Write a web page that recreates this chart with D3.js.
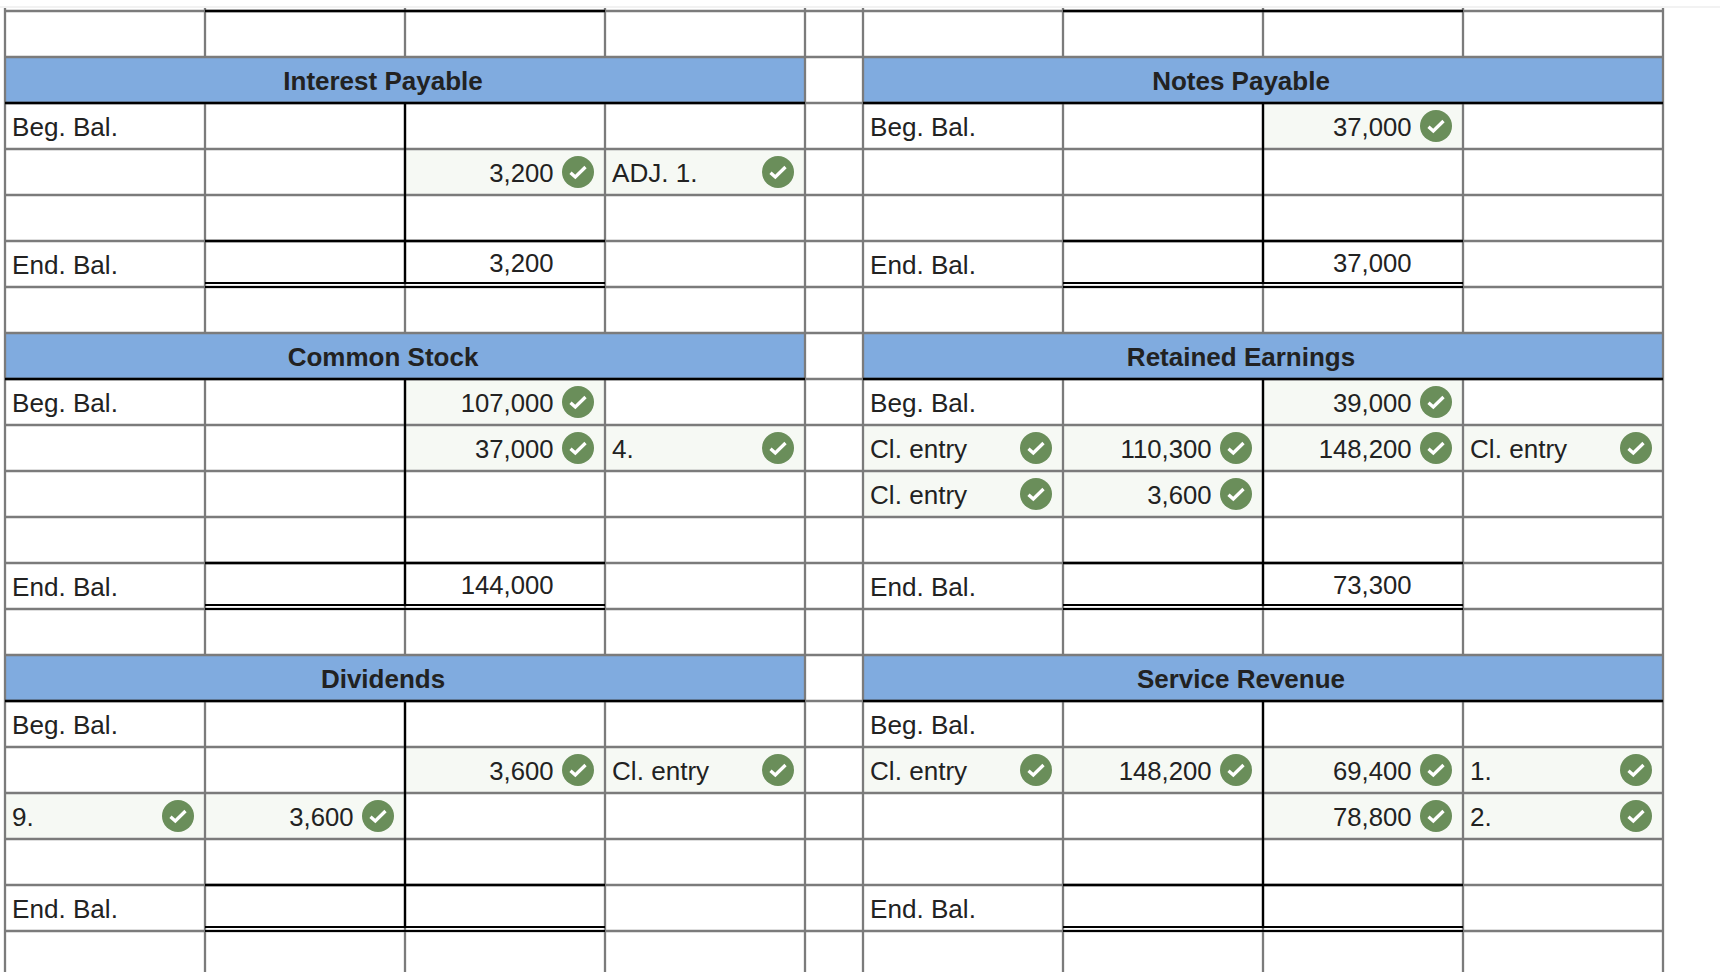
<!DOCTYPE html>
<html>
<head>
<meta charset="utf-8">
<script src="https://cdn.jsdelivr.net/npm/d3@7"></script>
<style>
  html, body { margin: 0; background: #fff; }
  svg { display: block; }
  text { font-family: "Liberation Sans", Arial, sans-serif; font-size: 25.7px; fill: #222; }
  text.label { font-size: 26.1px; }
  text.title { font-size: 26px; font-weight: bold; }
</style>
</head>
<body>
<svg id="sheet" width="1720" height="976"></svg>
<script>
// every row is [label, debit, credit, note]
const interestPayable = [
  ["Beg. Bal.", null, null, ""],
  ["", null, 3200, "ADJ. 1."],
  ["", null, null, ""],
  ["End. Bal.", null, 3200, ""]
];
const notesPayable = [
  ["Beg. Bal.", null, 37000, ""],
  ["", null, null, ""],
  ["", null, null, ""],
  ["End. Bal.", null, 37000, ""]
];
const commonStock = [
  ["Beg. Bal.", null, 107000, ""],
  ["", null, 37000, "4."],
  ["", null, null, ""],
  ["", null, null, ""],
  ["End. Bal.", null, 144000, ""]
];
const retainedEarnings = [
  ["Beg. Bal.", null, 39000, ""],
  ["Cl. entry", 110300, 148200, "Cl. entry"],
  ["Cl. entry", 3600, null, ""],
  ["", null, null, ""],
  ["End. Bal.", null, 73300, ""]
];
const dividends = [
  ["Beg. Bal.", null, null, ""],
  ["", null, 3600, "Cl. entry"],
  ["9.", 3600, null, ""],
  ["", null, null, ""],
  ["End. Bal.", null, null, ""]
];
const serviceRevenue = [
  ["Beg. Bal.", null, null, ""],
  ["Cl. entry", 148200, 69400, "1."],
  ["", null, 78800, "2."],
  ["", null, null, ""],
  ["End. Bal.", null, null, ""]
];

const leftAccounts = [
  { title: "Interest Payable", rows: interestPayable },
  { title: "Common Stock", rows: commonStock },
  { title: "Dividends", rows: dividends }
];
const rightAccounts = [
  { title: "Notes Payable", rows: notesPayable },
  { title: "Retained Earnings", rows: retainedEarnings },
  { title: "Service Revenue", rows: serviceRevenue }
];

const GREY = "#7b7b7b", BLACK = "#000", BLUE = "#80abdf", PALE = "#f6f9f4", GREEN = "#6a8e5a";
const ROW_COUNT = 21, GAP_COL = 4, COL_COUNT = 9;
const RULE = 2.3;

const svg = d3.select("#sheet");
const x = d3.scaleLinear().domain([0, GAP_COL, GAP_COL + 1, COL_COUNT]).range([5, 805, 863, 1663]);
const y = d3.scaleLinear().domain([0, ROW_COUNT]).range([11, 977]);
const bottom = 972;
const money = d3.format(",");

// lay the accounts out on the grid, header row first, one blank row between blocks
function layout(accounts, startCol) {
  let row = 1;
  return accounts.map(a => {
    const block = { ...a, col: startCol, row };
    row += a.rows.length + 2;
    return block;
  });
}
const blocks = layout(leftAccounts, 0).concat(layout(rightAccounts, GAP_COL + 1));

const cells = [];
blocks.forEach(b => {
  b.rows.forEach((r, i) => {
    const kind = i === 0 ? "beg" : i === b.rows.length - 1 ? "end" : "entry";
    r.forEach((v, j) => {
      if (v === null || v === "") return;
      const numeric = j === 1 || j === 2;
      const checked = kind === "entry" || (kind === "beg" && numeric);
      cells.push({
        col: b.col + j,
        row: b.row + 1 + i,
        text: numeric ? money(v) : v,
        numeric,
        checked,
        kind
      });
    });
  });
});

function hLine(y1, col0, col1, color, width) {
  svg.append("line").attr("x1", x(col0)).attr("x2", x(col1))
    .attr("y1", y1).attr("y2", y1)
    .attr("stroke", color).attr("stroke-width", width);
}
function vLine(xPos, y0, y1, color, width) {
  svg.append("line").attr("x1", xPos).attr("x2", xPos)
    .attr("y1", y0).attr("y2", y1)
    .attr("stroke", color).attr("stroke-width", width);
}

// strip along the very top of the crop
svg.append("rect").attr("x", 0).attr("y", 6).attr("width", 1720).attr("height", 2).attr("fill", "#f2f2f2");

// shaded answer cells
svg.append("g").selectAll("rect").data(cells.filter(c => c.checked)).join("rect")
  .attr("x", d => x(d.col)).attr("y", d => y(d.row))
  .attr("width", d => x(d.col + 1) - x(d.col)).attr("height", y(1) - y(0))
  .attr("fill", PALE);

// blue account headers
svg.append("g").selectAll("rect").data(blocks).join("rect")
  .attr("x", d => x(d.col)).attr("y", d => y(d.row))
  .attr("width", d => x(d.col + 4) - x(d.col)).attr("height", y(1) - y(0))
  .attr("fill", BLUE);

// grey grid
d3.range(ROW_COUNT).forEach(r => hLine(y(r), 0, COL_COUNT, GREY, RULE));
d3.range(COL_COUNT + 1).forEach(c => {
  const inner = c !== 0 && c !== 4 && c !== 5 && c !== 9;
  if (!inner) {
    vLine(x(c), 8, bottom, GREY, RULE);
    return;
  }
  // inner columns stop at the header bands
  let top = 8;
  blocks.filter(b => b.col === 0).forEach(b => {
    vLine(x(c), top, y(b.row), GREY, RULE);
    top = y(b.row + 1);
  });
  vLine(x(c), top, bottom, GREY, RULE);
});

// black T-account rules
[0, GAP_COL + 1].forEach(col => {
  hLine(y(0), col + 1, col + 3, BLACK, RULE);
});
blocks.forEach(b => {
  const endRow = b.row + b.rows.length;
  hLine(y(b.row + 1), b.col, b.col + 4, BLACK, RULE);
  vLine(x(b.col + 2), y(b.row + 1), y(endRow + 1) - 3, BLACK, RULE);
  hLine(y(endRow), b.col + 1, b.col + 3, BLACK, RULE);
  hLine(y(endRow + 1) - 4, b.col + 1, b.col + 3, BLACK, 1.8);
  hLine(y(endRow + 1), b.col + 1, b.col + 3, BLACK, 1.8);
});

// headers
svg.append("g").selectAll("text").data(blocks).join("text")
  .attr("class", "title")
  .attr("x", d => x(d.col + 2) - 22).attr("y", d => y(d.row) + 33)
  .attr("text-anchor", "middle")
  .text(d => d.title);

// cell text
svg.append("g").selectAll("text").data(cells).join("text")
  .attr("class", d => d.numeric ? "amount" : "label")
  .attr("x", d => d.numeric ? x(d.col + 1) - 51.5 : x(d.col) + 7)
  .attr("y", d => y(d.row) + (d.numeric && d.kind === "end" ? 31.4 : 32.7))
  .attr("text-anchor", d => d.numeric ? "end" : "start")
  .text(d => d.text);

// check badges
const tick = d3.line()([[-7.5, 0.8], [-2.7, 5], [7.5, -5]]);
const badges = svg.append("g").selectAll("g").data(cells.filter(c => c.checked)).join("g")
  .attr("transform", d => `translate(${x(d.col + 1) - 27},${y(d.row) + 23})`);
badges.append("circle").attr("r", 16).attr("fill", GREEN);
badges.append("path").attr("d", tick).attr("fill", "none")
  .attr("stroke", "#fff").attr("stroke-width", 3.3);
</script>
</body>
</html>
